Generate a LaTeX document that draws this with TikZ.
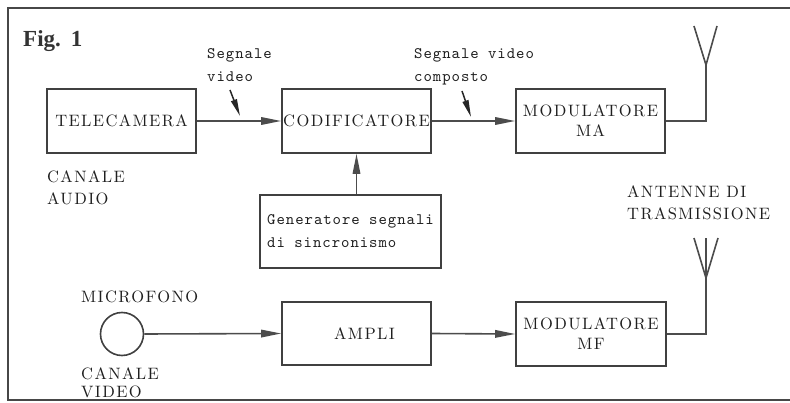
\documentclass[tikz,border=0pt]{standalone}
\usepackage{fontspec}
\usetikzlibrary{arrows.meta}
\newfontfamily\capsfont{lmroman10-regular.otf}[LetterSpace=8.5]
\newfontfamily\typefont{lmmono10-regular.otf}[LetterSpace=6]
\newfontfamily\figfont{Liberation Serif}
\tikzset{
  frame/.style={draw=black!72, line width=2.6pt},
  wire/.style={draw=black!70, line width=1.6pt},
  blk/.style={draw=black!75, line width=1.6pt, minimum width=149pt, minimum height=64pt,
    inner sep=0pt, align=center, text=black!88, font=\capsfont\fontsize{16.5}{20}\selectfont},
  lbl/.style={inner sep=0pt, anchor=north west, align=left, text=black!88},
  caps/.style={font=\capsfont\fontsize{16.5}{22}\selectfont},
  mono/.style={font=\typefont\fontsize{16}{23}\selectfont},
  arr/.style={draw=black!70, line width=1.6pt, -{Triangle[length=20pt,width=7.5pt]}},
  ptr/.style={draw=black!85, line width=1.5pt, -{Triangle[length=17pt,width=6pt]}},
}
\begin{document}
\begin{tikzpicture}[x=1pt, y=-1pt]
\useasboundingbox (0,0) rectangle (790,403);
\fill[white] (0,0) rectangle (790,403);
% frame
\draw[frame] (790,8) -- (8,8) -- (8,400) -- (790,400);
% title
\node[anchor=base west, inner sep=0pt, text=black!80, font=\figfont\bfseries\fontsize{23}{23}\selectfont] (fig) at (23,47) {Fig.\hspace{10pt}1};
% blocks
\node[blk] (tele) at (121.5,121) {TELECAMERA};
\node[blk] (codif) at (356.5,121) {CODIFICATORE};
\node[blk] (modma) at (590.5,121) {MODULATORE\\MA};
\node[blk, minimum width=181pt, minimum height=73pt, align=left, mono] (sync) at (350.5,231.5) {Generatore segnali\\di sincronismo};
\node[blk, minimum height=63pt] (ampli) at (356.5,333.5) {\hspace{16pt}AMPLI};
\node[blk, minimum width=150pt] (modmf) at (591,334) {MODULATORE\\MF};
\node[draw=black!75, line width=1.6pt, circle, minimum size=43pt, inner sep=0pt] (mic) at (122,334) {};
% labels
\node[lbl, mono] (sv) at (207,48) {Segnale\\video};
\node[lbl, mono] (svc) at (414,48) {Segnale video\\composto};
\node[lbl, caps] (audio) at (47,170) {CANALE\\AUDIO};
\node[lbl, caps] (ant) at (627,185) {ANTENNE DI\\TRASMISSIONE};
\node[lbl, caps] (micl) at (81,291) {MICROFONO};
\node[lbl, font=\capsfont\fontsize{16.5}{18}\selectfont] (video) at (81,367) {CANALE\\VIDEO};
% connectors
\draw[arr] (tele.east) -- (codif.west);
\draw[arr] (codif.east) -- (modma.west);
\draw[arr] (codif.south |- sync.north) -- (codif.south);
\draw[arr] (mic.east) -- (ampli.west);
\draw[arr] (ampli.east) -- (modmf.west);
% pointers
\coordinate (p1s) at (230,90);
\coordinate (p1e) at (240,116);
\coordinate (p2s) at (462,91);
\coordinate (p2e) at (471,117);
\draw[ptr] (p1s) -- (p1e);
\draw[ptr] (p2s) -- (p2e);
% antenna 1
\coordinate (a1) at (706,65);
\coordinate (a1l) at (694,26);
\coordinate (a1r) at (717,26);
\draw[wire] (modma.east) -| (a1);
\draw[wire, line join=miter] (a1l) -- (a1) -- (a1r);
% antenna 2
\coordinate (a2) at (706,278);
\coordinate (a2l) at (694,238);
\coordinate (a2r) at (718,238);
\coordinate (a2c) at (706,238);
\draw[wire] (modmf.east) -| (a2);
\draw[wire, line join=miter] (a2l) -- (a2) -- (a2r);
\draw[wire] (a2) -- (a2c);
\end{tikzpicture}
\end{document}
